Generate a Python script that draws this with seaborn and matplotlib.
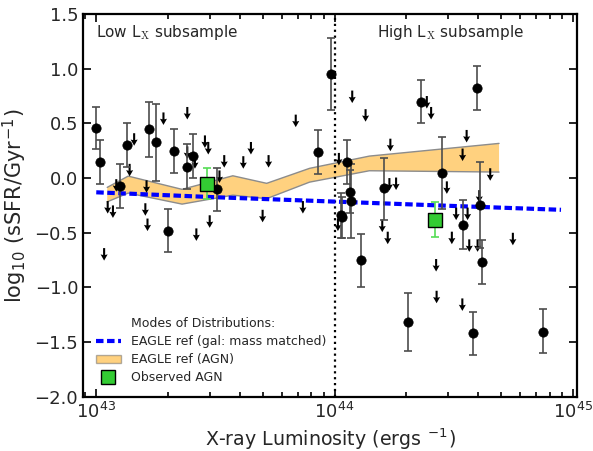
#!/usr/bin/env python3
"""sSFR vs X-ray luminosity for the low / high Lx AGN subsamples"""
import numpy as np
import pandas as pd
import seaborn as sns
import matplotlib
matplotlib.use("Agg")
import matplotlib.pyplot as plt
from matplotlib.lines import Line2D
from matplotlib.patches import Patch

# detections: log10 Lx, log10 sSFR and the ends of the error bars
det_logx = [43.00, 43.015, 43.10, 43.13, 43.22, 43.25, 43.325, 43.38, 43.405, 43.30,
            43.505, 43.93, 43.985, 44.05, 44.063, 44.067, 44.025, 44.031, 44.112,
            44.206, 44.31, 44.363, 44.452, 44.537, 44.598, 44.61, 44.619, 44.582, 44.874]
det_y = [0.46, 0.15, -0.07, 0.30, 0.45, 0.33, 0.25, 0.10, 0.20, -0.48,
         -0.10, 0.24, 0.95, 0.15, -0.125, -0.21, -0.34, -0.36, -0.75,
         -0.095, -1.32, 0.70, 0.05, -0.43, 0.82, -0.25, -0.77, -1.42, -1.41]
det_hi = [0.65, 0.35, 0.13, 0.50, 0.70, 0.68, 0.45, 0.31, 0.40, -0.28,
          0.09, 0.44, 1.28, 0.35, 0.07, 0.125, -0.14, -0.17, -0.51,
          0.18, -1.05, 0.90, 0.375, -0.20, 1.02, 0.15, -0.57, -1.22, -1.20]
det_lo = [0.265, -0.055, -0.27, 0.10, 0.19, -0.03, 0.05, -0.10, 0.005, -0.68,
          -0.30, 0.04, 0.62, -0.05, -0.32, -0.546, -0.55, -0.55, -1.00,
          -0.38, -1.58, 0.50, -0.28, -0.65, 0.62, -0.64, -0.97, -1.62, -1.60]

# upper limits (arrows)
lim_logx = [43.033, 43.048, 43.070, 43.084, 43.140, 43.159, 43.206, 43.211, 43.215, 43.282,
            43.382, 43.382, 43.414, 43.420, 43.456, 43.470, 43.476, 43.517, 43.537, 43.617,
            43.649, 43.698, 43.723, 43.837, 43.867, 44.014, 44.018, 44.074, 44.130, 44.200,
            44.223, 44.230, 44.258, 44.234, 44.387, 44.405, 44.426, 44.428, 44.471, 44.492,
            44.510, 44.537, 44.536, 44.554, 44.558, 44.565, 44.600, 44.607, 44.653, 44.748]
lim_y = [-0.64, -0.21, -0.25, -0.01, 0.13, 0.41, -0.23, -0.02, -0.37, 0.60,
         0.65, 0.29, 0.20, -0.46, 0.39, 0.33, -0.34, 0.07, 0.21, 0.20,
         0.33, -0.29, 0.21, 0.58, -0.21, -0.37, 0.23, 0.80, 0.63, -0.38,
         -0.49, 0.00, 0.005, 0.36, 0.75, 0.65, -0.74, -1.03, -0.03, -0.49,
         -0.27, 0.27, -1.10, 0.44, -0.27, -0.56, -0.56, -0.11, 0.09, -0.50]

# observed AGN modes (green squares)
obs_logx = [43.466, 44.42]
obs_y = [-0.05, -0.38]
obs_hi = [0.095, -0.22]
obs_lo = [-0.19, -0.54]

# EAGLE ref (AGN) band
band_logx = [43.046, 43.134, 43.360, 43.573, 43.715, 43.895, 44.146, 44.690]
band_hi = [-0.085, 0.018, -0.103, 0.021, -0.048, 0.089, 0.201, 0.317]
band_lo = [-0.217, -0.137, -0.238, -0.156, -0.188, -0.037, 0.067, 0.055]

# EAGLE ref (gal: mass matched)
gal_logx = [43.0, 43.5, 44.0, 44.5, 44.95]
gal_y = [-0.13, -0.175, -0.215, -0.255, -0.29]

sns.set_style("ticks", {"xtick.direction": "in", "ytick.direction": "in"})
plt.rcParams["font.family"] = ["DejaVu Sans"]
plt.rcParams["mathtext.fontset"] = "cm"

det = pd.DataFrame({"Lx": 10 ** np.array(det_logx), "y": det_y,
                    "hi": det_hi, "lo": det_lo})
lim = pd.DataFrame({"Lx": 10 ** np.array(lim_logx), "y": lim_y})
obs = pd.DataFrame({"Lx": 10 ** np.array(obs_logx), "y": obs_y,
                    "hi": obs_hi, "lo": obs_lo})
band = pd.DataFrame({"Lx": 10 ** np.array(band_logx), "hi": band_hi, "lo": band_lo})
gal = pd.DataFrame({"Lx": 10 ** np.array(gal_logx), "y": gal_y})

fig = plt.figure(figsize=(5.93, 4.51), dpi=100)
ax = fig.add_axes([0.140, 0.120, 0.833, 0.849])
ax.set_xscale("log")

ax.fill_between(band["Lx"], band["lo"], band["hi"], facecolor="orange",
                alpha=0.5, edgecolor="none", zorder=1)
ax.plot(band["Lx"], band["hi"], color="0.55", lw=1, zorder=1)
ax.plot(band["Lx"], band["lo"], color="0.55", lw=1, zorder=1)

sns.lineplot(data=gal, x="Lx", y="y", ax=ax, color="#0000ff", lw=3,
             linestyle=(0, (1.8, 0.85)), zorder=3)

ax.axvline(1e44, color="k", ls=":", lw=1.6, zorder=2)

# upper limits: downward arrows
ax.quiver(lim["Lx"], lim["y"], np.zeros(len(lim)), -0.125 * np.ones(len(lim)),
          angles="uv", scale_units="inches", scale=1, pivot="tail",
          color="k", width=0.0042, headwidth=3.4, headlength=3.0,
          headaxislength=2.7, zorder=4)

# detections
ax.errorbar(det["Lx"], det["y"],
            yerr=[det["y"] - det["lo"], det["hi"] - det["y"]],
            fmt="none", ecolor="0.3", elinewidth=1.2, capsize=3,
            capthick=1.2, zorder=4)
sns.scatterplot(data=det, x="Lx", y="y", ax=ax, color="k", s=45,
                edgecolor="k", linewidth=0.5, zorder=5, legend=False)

# observed modes
ax.errorbar(obs["Lx"], obs["y"],
            yerr=[obs["y"] - obs["lo"], obs["hi"] - obs["y"]],
            fmt="none", ecolor="#55dd55", elinewidth=1.2, capsize=3,
            capthick=1.2, zorder=6)
sns.scatterplot(data=obs, x="Lx", y="y", ax=ax, color="#33cc33", marker="s",
                s=110, edgecolor="k", linewidth=1, zorder=7, legend=False)

ax.text(0.026, 0.94, r"Low L$_{\rm X}$ subsample", transform=ax.transAxes,
        fontsize=11, va="baseline")
ax.text(0.595, 0.94, r"High L$_{\rm X}$ subsample", transform=ax.transAxes,
        fontsize=11, va="baseline")

ax.set_xlim(8.8e42, 1.04e45)
ax.set_ylim(-2.0, 1.5)
ax.set_yticks(np.arange(-2.0, 1.51, 0.5))
ax.set_xlabel(r"X-ray Luminosity (ergs $^{\mathdefault{-1}}$)", fontsize=13.7)
ax.set_ylabel(r"log$_{\mathdefault{10}}$ (sSFR/Gyr$^{\mathdefault{-1}}$)",
              fontsize=15)
ax.tick_params(axis="both", which="both", direction="in", top=True, right=True,
               labelsize=13, color="k")
ax.tick_params(which="major", length=6, width=1.2)
ax.tick_params(which="minor", length=3.5, width=1.2)
for sp in ax.spines.values():
    sp.set_linewidth(1.6)
    sp.set_color("k")

handles = [
    Line2D([], [], color="none"),
    Line2D([], [], color="#0000ff", lw=3, linestyle=(0, (1.8, 0.85))),
    Patch(facecolor="orange", alpha=0.5, edgecolor="0.4"),
    Line2D([], [], color="none", marker="s", markersize=10,
           markerfacecolor="#33cc33", markeredgecolor="k"),
]
labels = ["Modes of Distributions:", "EAGLE ref (gal: mass matched)",
          "EAGLE ref (AGN)", "Observed AGN"]
ax.legend(handles, labels, loc="lower left", frameon=False, fontsize=9,
          handlelength=2.0, labelspacing=0.4, borderaxespad=0.6)

fig.savefig("out.png", dpi=100)
